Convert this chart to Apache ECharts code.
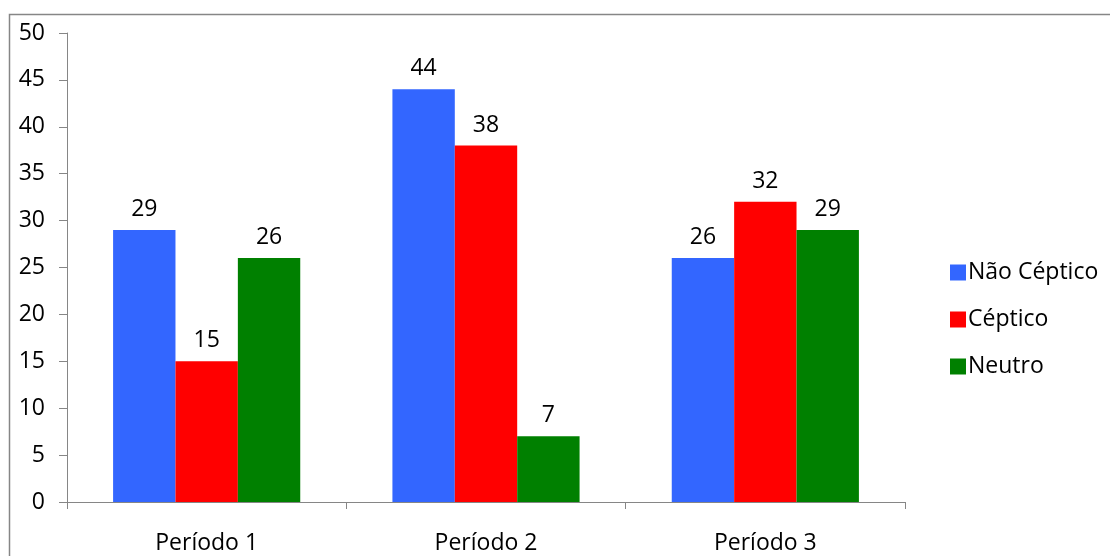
<!DOCTYPE html>
<html>
<head>
<meta charset="utf-8">
<script src="https://cdn.jsdelivr.net/npm/echarts@6/dist/echarts.min.js"></script>
<style>
  html, body { margin: 0; padding: 0; background: #fff; }
  #chart { width: 1110px; height: 556px; }
</style>
</head>
<body>
<div id="chart"></div>
<script>
// Respostas por período
const categories = ['Período 1', 'Período 2', 'Período 3'];
const seriesNames = ['Não Céptico', 'Céptico', 'Neutro'];
const naoCeptico = [29, 44, 26];
const ceptico = [15, 38, 32];
const neutro = [26, 7, 29];
const colors = ['#3366FF', '#FF0000', '#008000'];

const FONT = '"Open Sans"';
const FS = 23;
const values = [naoCeptico, ceptico, neutro];

const chart = echarts.init(document.getElementById('chart'));
chart.setOption({
  animation: false,
  textStyle: { fontFamily: FONT },
  graphic: [{
    type: 'rect',
    shape: { x: 9.5, y: 14.5, width: 1200, height: 700 },
    style: { fill: 'none', stroke: '#868686', lineWidth: 1.5 },
    silent: true,
    z: -1
  }],
  grid: { left: 67, right: 205, top: 33, bottom: 54 },
  legend: {
    orient: 'vertical',
    left: 945,
    top: 256,
    itemWidth: 16,
    itemHeight: 16,
    itemGap: 24,
    icon: 'rect',
    textStyle: { fontFamily: FONT, fontSize: FS, color: '#000', padding: [0, 0, 0, -3] },
    data: seriesNames
  },
  xAxis: {
    type: 'category',
    data: categories,
    axisLine: { lineStyle: { color: '#868686', width: 1 } },
    axisTick: { show: true, length: 7, lineStyle: { color: '#868686' } },
    axisLabel: { margin: 30, fontFamily: FONT, fontSize: FS, color: '#000' }
  },
  yAxis: {
    type: 'value',
    min: 0,
    max: 50,
    interval: 5,
    axisLine: { show: true, lineStyle: { color: '#868686', width: 1 } },
    axisTick: { show: true, length: 8, lineStyle: { color: '#868686' } },
    splitLine: { show: false },
    axisLabel: { margin: 22, fontFamily: FONT, fontSize: FS, color: '#000' }
  },
  series: seriesNames.map((name, i) => ({
    name: name,
    type: 'bar',
    data: values[i],
    barGap: '0%',
    barCategoryGap: '33%',
    itemStyle: { color: colors[i] },
    label: {
      show: true,
      position: 'top',
      distance: 9,
      fontFamily: FONT,
      fontSize: FS,
      color: '#000'
    }
  }))
});
</script>
</body>
</html>
